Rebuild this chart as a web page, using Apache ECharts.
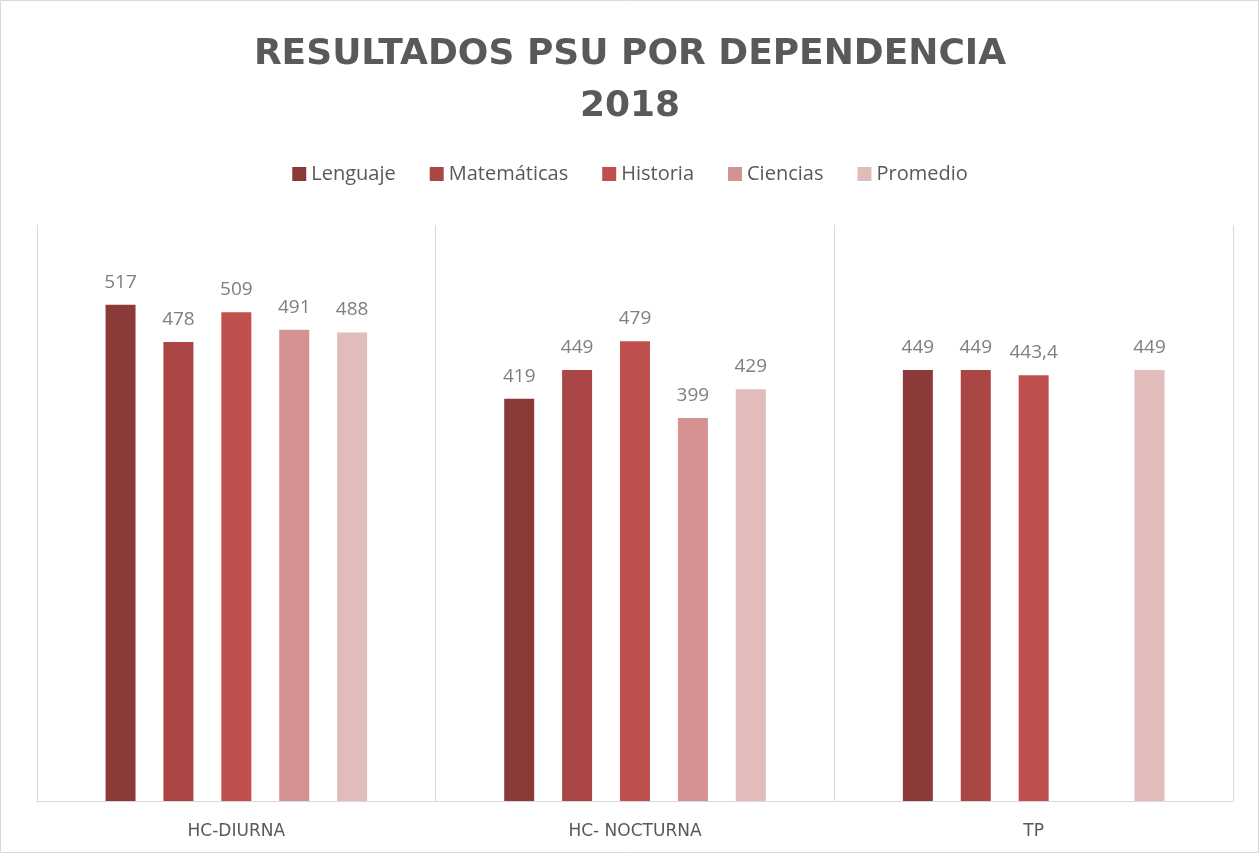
<!DOCTYPE html>
<html>
<head>
<meta charset="utf-8">
<script src="https://cdn.jsdelivr.net/npm/echarts@6/dist/echarts.min.js"></script>
<style>
  html, body { margin: 0; padding: 0; background: #fff; }
  #main { width: 1260px; height: 854px; }
</style>
</head>
<body>
<div id="main"></div>
<script>
// categories and series
const categories = ['HC-DIURNA', 'HC- NOCTURNA', 'TP'];
const lenguaje = [517, 419, 449];
const matematicas = [478, 449, 449];
const historia = [509, 479, 443.4];
const ciencias = [491, 399, null];
const promedio = [488, 429, 449];

const names = ['Lenguaje', 'Matemáticas', 'Historia', 'Ciencias', 'Promedio'];
const values = [lenguaje, matematicas, historia, ciencias, promedio];
const colors = ['#8C3A39', '#AA4644', '#C0504D', '#D49392', '#E2BBBB'];

let chart = echarts.init(document.getElementById('main'));

chart.setOption({
    backgroundColor: '#fff',
    animation: false,
    title: {
        text: 'RESULTADOS PSU POR DEPENDENCIA\n2018',
        left: 'center',
        top: 24,
        textStyle: {
            fontFamily: 'DejaVu Sans',
            fontSize: 36,
            fontWeight: 'bold',
            color: '#595959',
            lineHeight: 52
        }
    },
    legend: {
        top: 159,
        left: 'center',
        itemWidth: 14,
        itemHeight: 14,
        itemGap: 34,
        icon: 'rect',
        textStyle: {
            fontFamily: 'Open Sans',
            fontSize: 20,
            color: '#595959'
        },
        data: names
    },
    grid: {
        left: 37,
        right: 27,
        top: 225,
        bottom: 53
    },
    xAxis: {
        type: 'category',
        data: categories,
        axisTick: { show: false },
        axisLine: { lineStyle: { color: '#d9d9d9', width: 1 } },
        splitLine: { show: true, lineStyle: { color: '#d9d9d9', width: 1 } },
        axisLabel: {
            margin: 22,
            fontFamily: 'DejaVu Sans',
            fontSize: 17,
            color: '#595959'
        }
    },
    yAxis: {
        type: 'value',
        min: 0,
        max: 600,
        show: false,
        splitLine: { show: false }
    },
    series: names.map((n, i) => ({
        name: n,
        type: 'bar',
        data: values[i],
        barWidth: 30,
        barGap: '93%',
        itemStyle: { color: colors[i] },
        label: {
            show: true,
            position: 'top',
            distance: 13,
            fontFamily: 'Open Sans',
            fontSize: 19,
            color: '#7f7f7f',
            formatter: p => String(p.value).replace('.', ',')
        }
    })),
    graphic: [{
        type: 'rect',
        shape: { x: 0.5, y: 0.5, width: 1258, height: 852 },
        style: { fill: 'none', stroke: '#d9d9d9', lineWidth: 1 },
        silent: true
    }]
});
</script>
</body>
</html>
